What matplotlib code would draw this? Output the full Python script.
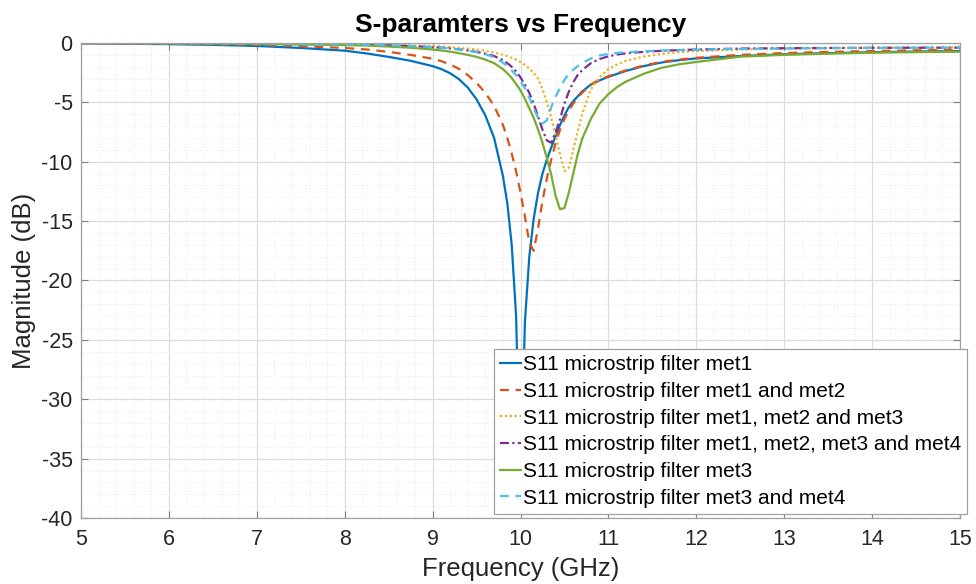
import matplotlib
matplotlib.use("Agg")
import matplotlib.pyplot as plt
from matplotlib.ticker import MultipleLocator

plt.rcParams['font.family'] = ['Liberation Sans', 'DejaVu Sans']
plt.rcParams['axes.unicode_minus'] = False

# Frequency grid (GHz) shared by all measured S11 traces
freq = [5, 5.5, 6, 6.5, 7, 7.5, 8, 8.25, 8.5, 8.75,
        9, 9.1, 9.2, 9.3, 9.4, 9.5, 9.6, 9.7, 9.8, 9.85, 9.9, 9.95,
        10.0, 10.05, 10.1, 10.15, 10.2, 10.25, 10.3, 10.35, 10.4, 10.45,
        10.5, 10.55, 10.6, 10.65, 10.7,
        10.8, 10.9, 11.0, 11.1, 11.2, 11.4, 11.6, 11.8, 12,
        12.5, 13, 13.5, 14, 14.5, 15]

s11_met1 = [-0.03, -0.06, -0.1, -0.16, -0.25, -0.42, -0.65, -0.88, -1.17, -1.5,
            -1.95, -2.2, -2.55, -3.05, -3.75, -4.75, -6.1, -8.0, -11.2, -13.5, -17.0, -23.0,
            -38.0, -23.5, -18.0, -14.8, -12.6, -11.0, -9.8, -8.8, -7.8, -6.9,
            -6.1, -5.4, -4.9, -4.5, -4.1,
            -3.5, -3.15, -2.85, -2.6, -2.35, -1.95, -1.65, -1.45, -1.3,
            -1.1, -0.95, -0.85, -0.78, -0.72, -0.68]

s11_met12 = [-0.02, -0.04, -0.07, -0.11, -0.17, -0.27, -0.42, -0.55, -0.75, -1.0,
             -1.33, -1.53, -1.82, -2.18, -2.7, -3.35, -4.2, -5.3, -6.9, -8.0, -9.3, -10.8,
             -12.6, -14.6, -16.8, -17.5, -15.6, -13.3, -11.4, -9.8, -8.4, -7.3,
             -6.4, -5.7, -5.1, -4.6, -4.2,
             -3.5, -3.1, -2.8, -2.55, -2.3, -1.9, -1.6, -1.4, -1.25,
             -1.0, -0.85, -0.75, -0.68, -0.62, -0.58]

s11_met123 = [0.0, -0.01, -0.02, -0.03, -0.05, -0.07, -0.1, -0.12, -0.15, -0.2,
              -0.27, -0.3, -0.35, -0.4, -0.47, -0.55, -0.65, -0.8, -1.0, -1.1, -1.25, -1.4,
              -1.6, -1.85, -2.15, -2.5, -3.0, -3.9, -5.0, -6.3, -7.8, -9.4,
              -10.8, -10.5, -9.0, -7.5, -6.0,
              -3.9, -2.9, -2.2, -1.8, -1.5, -1.15, -0.92, -0.78, -0.68,
              -0.55, -0.48, -0.43, -0.4, -0.38, -0.36]

s11_met1234 = [0.0, -0.01, -0.02, -0.04, -0.06, -0.09, -0.13, -0.16, -0.2, -0.26,
               -0.35, -0.4, -0.46, -0.54, -0.63, -0.75, -0.9, -1.1, -1.45, -1.7, -2.0, -2.4,
               -2.9, -3.5, -4.2, -5.1, -6.2, -7.3, -8.2, -8.4, -7.5, -6.4,
               -5.1, -4.1, -3.3, -2.7, -2.3,
               -1.7, -1.35, -1.12, -0.97, -0.87, -0.75, -0.66, -0.6, -0.55,
               -0.47, -0.44, -0.42, -0.41, -0.4, -0.4]

s11_met3 = [-0.01, -0.02, -0.03, -0.05, -0.08, -0.12, -0.18, -0.22, -0.3, -0.4,
            -0.55, -0.63, -0.73, -0.86, -1.0, -1.17, -1.4, -1.7, -2.2, -2.55, -2.95, -3.45,
            -4.0, -4.7, -5.5, -6.3, -7.3, -8.4, -9.7, -11.1, -12.9, -14.0,
            -13.9, -12.6, -11.0, -9.4, -8.1,
            -6.4, -5.1, -4.3, -3.7, -3.25, -2.6, -2.1, -1.8, -1.6,
            -1.15, -1.0, -0.9, -0.82, -0.77, -0.73]

s11_met34 = [0.0, -0.01, -0.02, -0.04, -0.06, -0.09, -0.13, -0.16, -0.2, -0.26,
             -0.35, -0.4, -0.46, -0.54, -0.64, -0.77, -0.95, -1.2, -1.65, -1.95, -2.3, -2.7,
             -3.2, -3.8, -4.6, -5.5, -6.3, -6.8, -6.5, -5.4, -4.5, -3.8,
             -3.1, -2.6, -2.25, -1.95, -1.7,
             -1.3, -1.05, -0.92, -0.84, -0.78, -0.7, -0.64, -0.6, -0.56,
             -0.5, -0.46, -0.44, -0.42, -0.41, -0.4]

labels = ["S11 microstrip filter met1",
          "S11 microstrip filter met1 and met2",
          "S11 microstrip filter met1, met2 and met3",
          "S11 microstrip filter met1, met2, met3 and met4",
          "S11 microstrip filter met3",
          "S11 microstrip filter met3 and met4"]

series = [s11_met1, s11_met12, s11_met123, s11_met1234, s11_met3, s11_met34]
colors = ["#0072BD", "#D95319", "#EDB120", "#7E2F8E", "#77AC30", "#4DBEEE"]
styles = ["-", (0, (4, 3)), (0, (1, 1.2)), (0, (4, 1.5, 1, 1.5)), "-", (0, (4, 3))]

fig = plt.figure(figsize=(9.76, 5.84), dpi=100)
ax = fig.add_axes([0.083, 0.113, 0.9006, 0.8134])

for vals, c, ls, lab in zip(series, colors, styles, labels):
    ax.plot(freq, vals, color=c, linestyle=ls, linewidth=1.6, label=lab)

ax.set_xlim(5, 15)
ax.set_ylim(-40, 0)
ax.xaxis.set_major_locator(MultipleLocator(1))
ax.yaxis.set_major_locator(MultipleLocator(5))
ax.xaxis.set_minor_locator(MultipleLocator(0.2))
ax.yaxis.set_minor_locator(MultipleLocator(1))

ax.grid(True, which='major', color='#dcdcdc', linewidth=0.9, linestyle='-')
ax.grid(True, which='minor', color='#e8e8e8', linewidth=0.7, linestyle=(0, (1, 2)))
ax.set_axisbelow(True)

for sp in ax.spines.values():
    sp.set_color('#a0a0a0')
    sp.set_linewidth(0.9)
ax.tick_params(which='both', direction='in', top=True, right=True,
               colors='#808080', labelcolor='#262626', labelsize=15.5)
ax.tick_params(which='major', length=5)
ax.tick_params(axis='x', which='major', pad=8)
ax.tick_params(axis='y', which='major', pad=6)
ax.tick_params(which='minor', length=0)

ax.set_xlabel("Frequency (GHz)", fontsize=18.5, color='#262626', labelpad=5)
ax.set_ylabel("Magnitude (dB)", fontsize=18.5, color='#262626', labelpad=4)
ax.set_title("S-paramters vs Frequency", fontsize=19, fontweight='bold',
             color='#000000', pad=8)

leg = ax.legend(loc='lower right', bbox_to_anchor=(0.991, 0.12),
                bbox_transform=fig.transFigure, fontsize=15,
                fancybox=False, framealpha=1, edgecolor='#a0a0a0',
                handlelength=1.0, handletextpad=0.1, labelspacing=0.37,
                borderpad=0.3, borderaxespad=0)
leg.get_frame().set_linewidth(0.9)
leg.set_zorder(5)

fig.savefig("out.png", dpi=100)
